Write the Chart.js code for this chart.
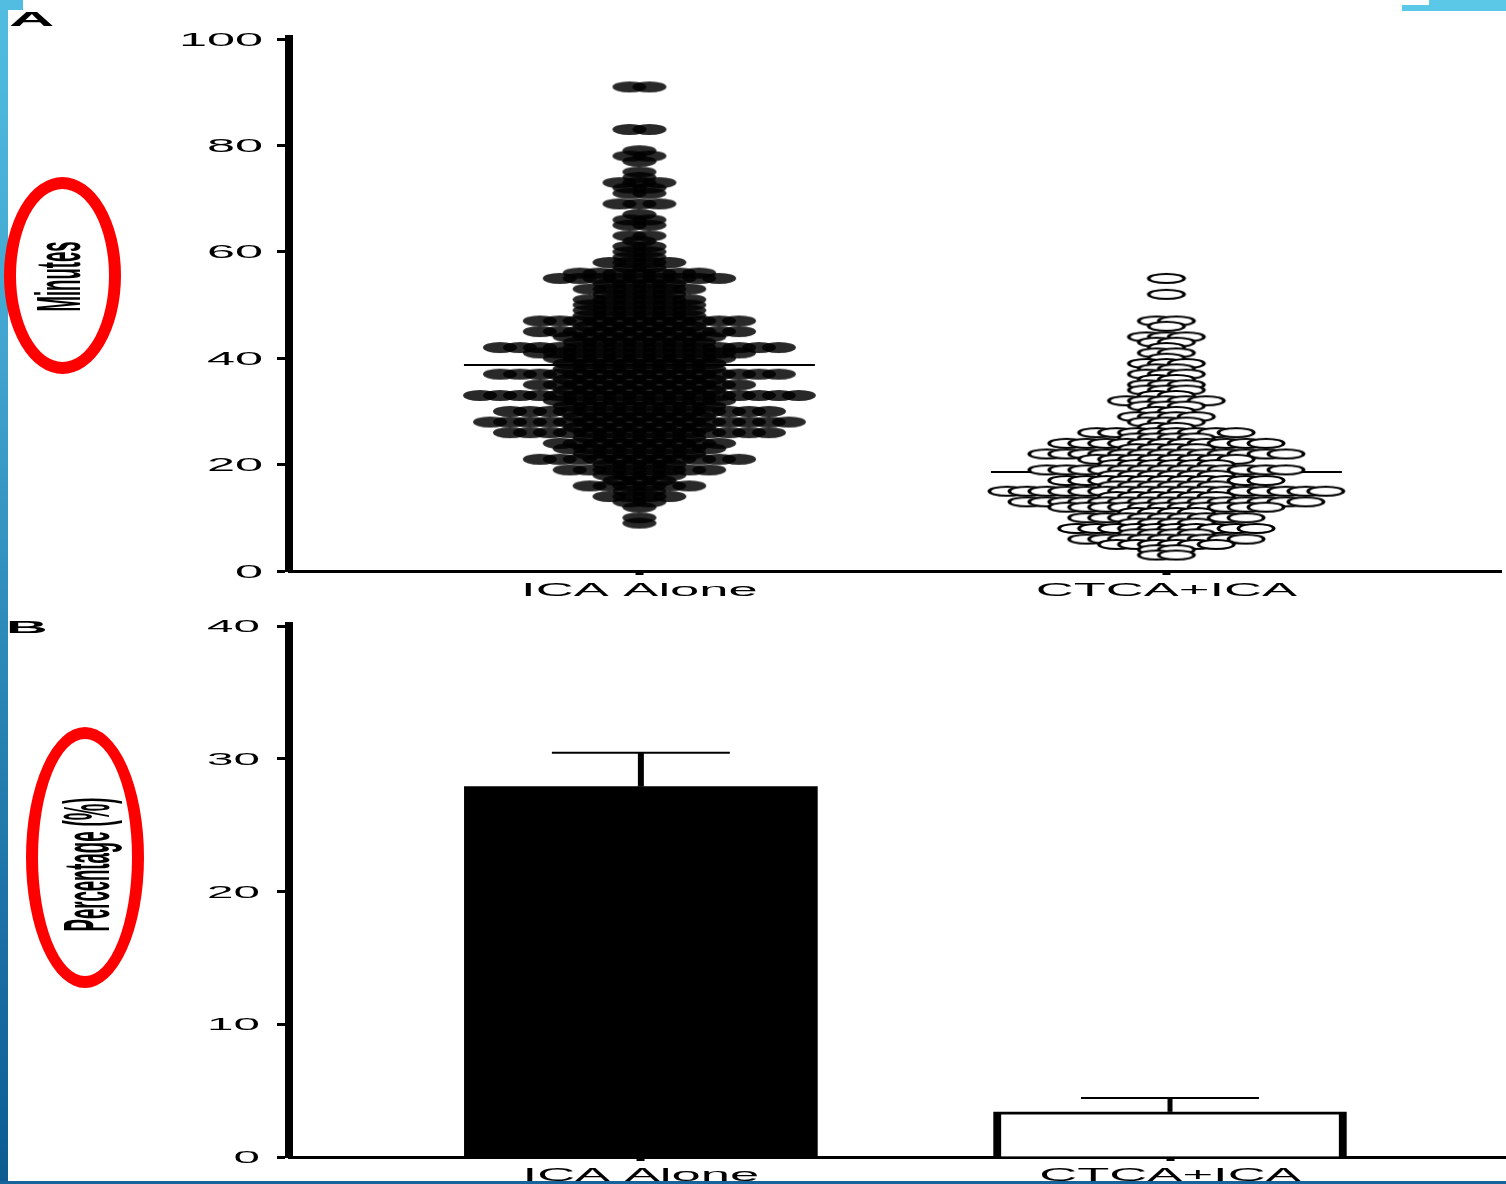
<!DOCTYPE html>
<html>
<head>
<meta charset="utf-8">
<script src="https://cdn.jsdelivr.net/npm/chart.js@4.4.0/dist/chart.umd.min.js"></script>
<style>
  body { margin: 0; background: #fff; width: 1506px; height: 1184px; overflow: hidden; position: relative; font-family: "Liberation Sans", Arial, sans-serif; }
  canvas { position: absolute; left: 0; }
  #c1 { top: 0; }
  #c2 { top: 612px; }
  .deco { position: absolute; z-index: 2; }
  .ring { position: absolute; z-index: 2; box-sizing: border-box; border: 12px solid #ff0000; border-radius: 50%; }
  .ytitle { position: absolute; z-index: 3; font-weight: bold; white-space: nowrap; color: #000; }
  .panel { position: absolute; z-index: 3; font-weight: bold; transform-origin: 0 0; color: #000; }
</style>
</head>
<body>
<canvas id="c1" width="1506" height="612"></canvas>
<canvas id="c2" width="1506" height="572"></canvas>

<div class="deco" style="left:0;top:0;width:8px;height:1184px;background:linear-gradient(to bottom,#52bde0 0%,#40a4cf 30%,#2b89b9 55%,#1a6ea3 80%,#0b5b91 100%);"></div>
<div class="deco" style="left:0;top:0;width:23px;height:10px;background:#52bde0;"></div>
<div class="deco" style="left:1402px;top:5px;width:104px;height:6px;background:#5ac8e6;"></div>
<div class="deco" style="left:1429px;top:0;width:77px;height:11px;background:#5ac8e6;"></div>
<div class="deco" style="left:0;top:1181px;width:1506px;height:3px;background:#17649a;"></div>

<div class="panel" style="left:9px;top:8px;font-size:21px;line-height:21px;transform:scaleX(3.0);">A</div>
<div class="panel" style="left:6px;top:619px;font-size:17px;line-height:17px;transform:scaleX(3.4);">B</div>

<div class="ring" style="left:4px;top:177px;width:117px;height:197px;"></div>
<div class="ring" style="left:26px;top:727px;width:118px;height:261px;"></div>
<div class="ytitle" id="t1" style="font-size:63px;line-height:63px;">Minutes</div>
<div class="ytitle" id="t2" style="font-size:65px;line-height:65px;">Percentage (%)</div>

<script>
// groups and tick labels
const groups = ["ICA Alone", "CTCA+ICA"];
const minutesTicks = [0, 20, 40, 60, 80, 100];
const percentTicks = [0, 10, 20, 30, 40];

// panel A: minutes (value levels and how many dots sit on each)
const icaMinutes = [9,10,12,13,14,15,16,17,18,19,20,21,22,23,24,25,26,27,28,29,30,31,32,33,34,35,36,37,38,39,40,41,42,43,44,45,46,47,48,49,50,51,52,53,54,55,56,57,58,59,60,61,62,63,65,66,67,69,71,72,73,74,75,77,78,79,83,91];
const icaCounts  = [1,1,1,2,4,2,6,3,4,8,4,11,6,8,9,6,14,7,16,7,14,8,9,17,8,11,8,15,8,8,9,11,15,7,8,11,6,11,6,6,6,6,4,6,4,9,7,2,4,2,2,2,1,2,2,2,1,3,2,2,3,1,1,1,2,1,2,2];
const ctcaMinutes = [3,4,5,6,7,8,9,10,11,12,13,14,15,16,17,18,19,20,21,22,23,24,25,26,27,28,29,30,31,32,33,34,35,36,37,38,39,40,41,42,43,44,46,47,52,55];
const ctcaCounts  = [2,2,6,9,4,10,4,9,4,11,15,6,17,6,11,6,13,6,8,13,4,11,4,8,2,3,4,2,3,5,2,3,3,2,3,2,3,1,2,1,2,3,1,2,1,1];
const meanMinutes = [38.7, 18.6];

// panel B: percentage bars with error
const percentValues = [27.9, 3.4];
const percentError = [2.55, 1.05];

// spread dots of one value sideways, like a prism scatter dot plot
const swarmStep = 0.0378;
function swarm(levels, counts, gi) {
  const pts = [];
  for (let k = levels.length - 1; k >= 0; k--) {
    const n = counts[k];
    for (let j = 0; j < n; j++) {
      pts.push({ x: gi + (j - (n - 1) / 2) * swarmStep, y: levels[k] });
    }
  }
  return pts;
}

function makeDot(hollow) {
  const c = document.createElement("canvas");
  c.width = 42; c.height = 13;
  const g = c.getContext("2d");
  if (hollow) {
    g.fillStyle = "#000";
    g.beginPath(); g.ellipse(21, 6.5, 19.5, 5.6, 0, 0, Math.PI * 2); g.fill();
    g.fillStyle = "#fff";
    g.beginPath(); g.ellipse(21, 6.5, 15.8, 3.6, 0, 0, Math.PI * 2); g.fill();
  } else {
    g.fillStyle = "rgba(0,0,0,0.84)";
    g.beginPath(); g.ellipse(21, 6.5, 17, 5.6, 0, 0, Math.PI * 2); g.fill();
  }
  return c;
}

// tick labels are drawn wide, the figure was stretched sideways
const wideLabels = {
  id: "wideLabels",
  afterDraw(chart, args, o) {
    const ctx = chart.ctx;
    const xs = chart.scales.x, ys = chart.scales.y;
    ctx.save();
    ctx.fillStyle = "#000";
    ctx.textBaseline = "alphabetic";
    ctx.font = o.yFont;
    ctx.textAlign = "right";
    ys.ticks.forEach(t => {
      ctx.save();
      ctx.translate(o.yRight, ys.getPixelForValue(t.value) + o.yShift);
      ctx.scale(o.sx, 1);
      ctx.fillText(String(t.value), 0, 0);
      ctx.restore();
    });
    ctx.font = o.xFont;
    ctx.textAlign = "center";
    xs.ticks.forEach(t => {
      ctx.save();
      ctx.translate(xs.getPixelForValue(t.value), o.xBase);
      ctx.scale(o.xsx, 1);
      ctx.fillText(groups[t.value], 0, 0);
      ctx.restore();
    });
    ctx.restore();
  }
};

const errorBars = {
  id: "errorBars",
  afterDatasetsDraw(chart) {
    const ctx = chart.ctx;
    const xs = chart.scales.x, ys = chart.scales.y;
    ctx.save();
    ctx.strokeStyle = "#000";
    percentValues.forEach((v, i) => {
      const xc = xs.getPixelForValue(i);
      const yb = ys.getPixelForValue(v);
      const yt = ys.getPixelForValue(v + percentError[i]);
      ctx.lineWidth = i === 0 ? 6 : 5;
      ctx.beginPath(); ctx.moveTo(xc, yb); ctx.lineTo(xc, yt); ctx.stroke();
      ctx.lineWidth = 2;
      ctx.beginPath(); ctx.moveTo(xc - 89, yt); ctx.lineTo(xc + 89, yt); ctx.stroke();
    });
    ctx.restore();
  }
};

function xScale(height) {
  return {
    type: "linear", min: -0.665, max: 1.635, offset: false,
    afterBuildTicks: s => { s.ticks = groups.map((g, i) => ({ value: i })); },
    afterFit: s => { s.height = height; },
    ticks: { display: false },
    grid: { offset: false, drawOnChartArea: false, drawTicks: true, tickLength: 4, tickWidth: 8, color: "#000" },
    border: { display: true, color: "#000", width: 3 }
  };
}
function yScale(max, ticks) {
  return {
    min: 0, max: max,
    afterBuildTicks: s => { s.ticks = ticks.map(v => ({ value: v })); },
    afterFit: s => { s.width = 289; },
    ticks: { display: false },
    grid: { drawOnChartArea: false, drawTicks: true, tickLength: 12, tickWidth: 3, color: "#000" },
    border: { display: true, color: "#000", width: 8 }
  };
}

const blackDot = makeDot(false);
const whiteDot = makeDot(true);
const meanHalf = 0.333;

new Chart(document.getElementById("c1"), {
  type: "scatter",
  data: {
    datasets: [
      { data: swarm(icaMinutes, icaCounts, 0), pointStyle: blackDot, pointRadius: 2 },
      { data: swarm(ctcaMinutes, ctcaCounts, 1), pointStyle: whiteDot, pointRadius: 2 },
      { type: "line", data: [{ x: -meanHalf, y: meanMinutes[0] }, { x: meanHalf, y: meanMinutes[0] }], borderColor: "#000", borderWidth: 2, pointRadius: 0 },
      { type: "line", data: [{ x: 1 - meanHalf, y: meanMinutes[1] }, { x: 1 + meanHalf, y: meanMinutes[1] }], borderColor: "#000", borderWidth: 2, pointRadius: 0 }
    ]
  },
  options: {
    responsive: false, animation: false, devicePixelRatio: 1,
    layout: { padding: { top: 39, left: 0, right: 0, bottom: 0 } },
    plugins: {
      legend: { display: false }, tooltip: { enabled: false },
      wideLabels: { yFont: '18px "Liberation Sans"', xFont: '18px "Liberation Sans"', sx: 2.8, xsx: 2.92, yRight: 263, yShift: 6.5, xBase: 596 }
    },
    scales: { x: xScale(41), y: yScale(100, minutesTicks) }
  },
  plugins: [wideLabels]
});

new Chart(document.getElementById("c2"), {
  type: "bar",
  data: {
    datasets: [{
      data: percentValues.map((v, i) => ({ x: i, y: v })),
      backgroundColor: ["#000", "#fff"],
      borderColor: "#000",
      borderWidth: c => c.dataIndex === 1 ? { top: 3, left: 8, right: 8, bottom: 0 } : 0,
      borderSkipped: "start",
      barThickness: 353
    }]
  },
  options: {
    responsive: false, animation: false, devicePixelRatio: 1,
    layout: { padding: { top: 14, left: 0, right: 0, bottom: 0 } },
    plugins: {
      legend: { display: false }, tooltip: { enabled: false },
      wideLabels: { yFont: '17px "Liberation Sans"', xFont: '18px "Liberation Sans"', sx: 2.8, xsx: 2.92, yRight: 260, yShift: 6, xBase: 569 }
    },
    scales: { x: xScale(27), y: yScale(40, percentTicks) }
  },
  plugins: [wideLabels, errorBars]
});

function placeTitle(id, cx, cy, len) {
  const el = document.getElementById(id);
  const w = el.offsetWidth, h = el.offsetHeight;
  el.style.left = (cx - w / 2) + "px";
  el.style.top = (cy - h / 2) + "px";
  el.style.transform = "rotate(-90deg) scaleX(" + (len / w) + ")";
}
placeTitle("t1", 57.5, 276, 70);
placeTitle("t2", 86.5, 864, 134);
</script>
</body>
</html>
